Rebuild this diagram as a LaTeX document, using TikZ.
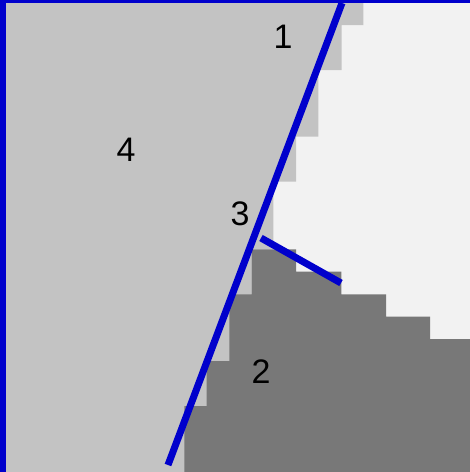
\documentclass[tikz,border=0pt]{standalone}
\usepackage{fontspec}
\setmainfont{Liberation Sans}
\definecolor{bgwhite}{HTML}{F2F2F2}
\definecolor{lightg}{HTML}{C3C3C3}
\definecolor{darkg}{HTML}{787878}
\definecolor{blueline}{HTML}{0000CC}
\begin{document}
\begin{tikzpicture}[x=1pt,y=-1pt,
  lbl/.style={font=\fontsize{34}{34}\selectfont, text=black, inner sep=0pt},
  bluestroke/.style={draw=blueline, line width=7pt, line cap=butt}]
\useasboundingbox (0,0) rectangle (470,472);
\fill[bgwhite] (0,0) rectangle (470,472);
% light gray region
\fill[lightg] (0,0) -- (363.3,0) -- (363.3,25) -- (341.7,25) -- (341.7,70) -- (318.3,70)
  -- (318.3,136.7) -- (296,136.7) -- (296,181.7) -- (273.3,181.7) -- (273.3,249.3)
  -- (251.7,249.3) -- (251.7,472) -- (0,472) -- cycle;
% dark gray region
\fill[darkg] (251.7,249.3) -- (296,249.3) -- (296,271.7) -- (341.3,271.7) -- (341.3,294.3)
  -- (386,294.3) -- (386,316.7) -- (430,316.7) -- (430,339) -- (470,339) -- (470,472)
  -- (184.3,472) -- (184.3,406) -- (206.7,406) -- (206.7,361) -- (229.3,361)
  -- (229.3,294.3) -- (251.7,294.3) -- cycle;
% borders
\fill[blueline] (0,0) rectangle (6,472);
\fill[blueline] (0,0) rectangle (470,3);
% blue lines
\coordinate (mtop) at (342,3);
\coordinate (mbot) at (168,465);
\coordinate (sa) at (261,238);
\coordinate (sb) at (341,283);
\draw[bluestroke] (mtop) -- (mbot);
\draw[bluestroke] (sa) -- (sb);
% labels
\node[lbl] (l1) at (283,37) {1};
\node[lbl] (l4) at (126,150) {4};
\node[lbl] (l3) at (240,214) {3};
\node[lbl] (l2) at (261,372) {2};
\end{tikzpicture}
\end{document}
